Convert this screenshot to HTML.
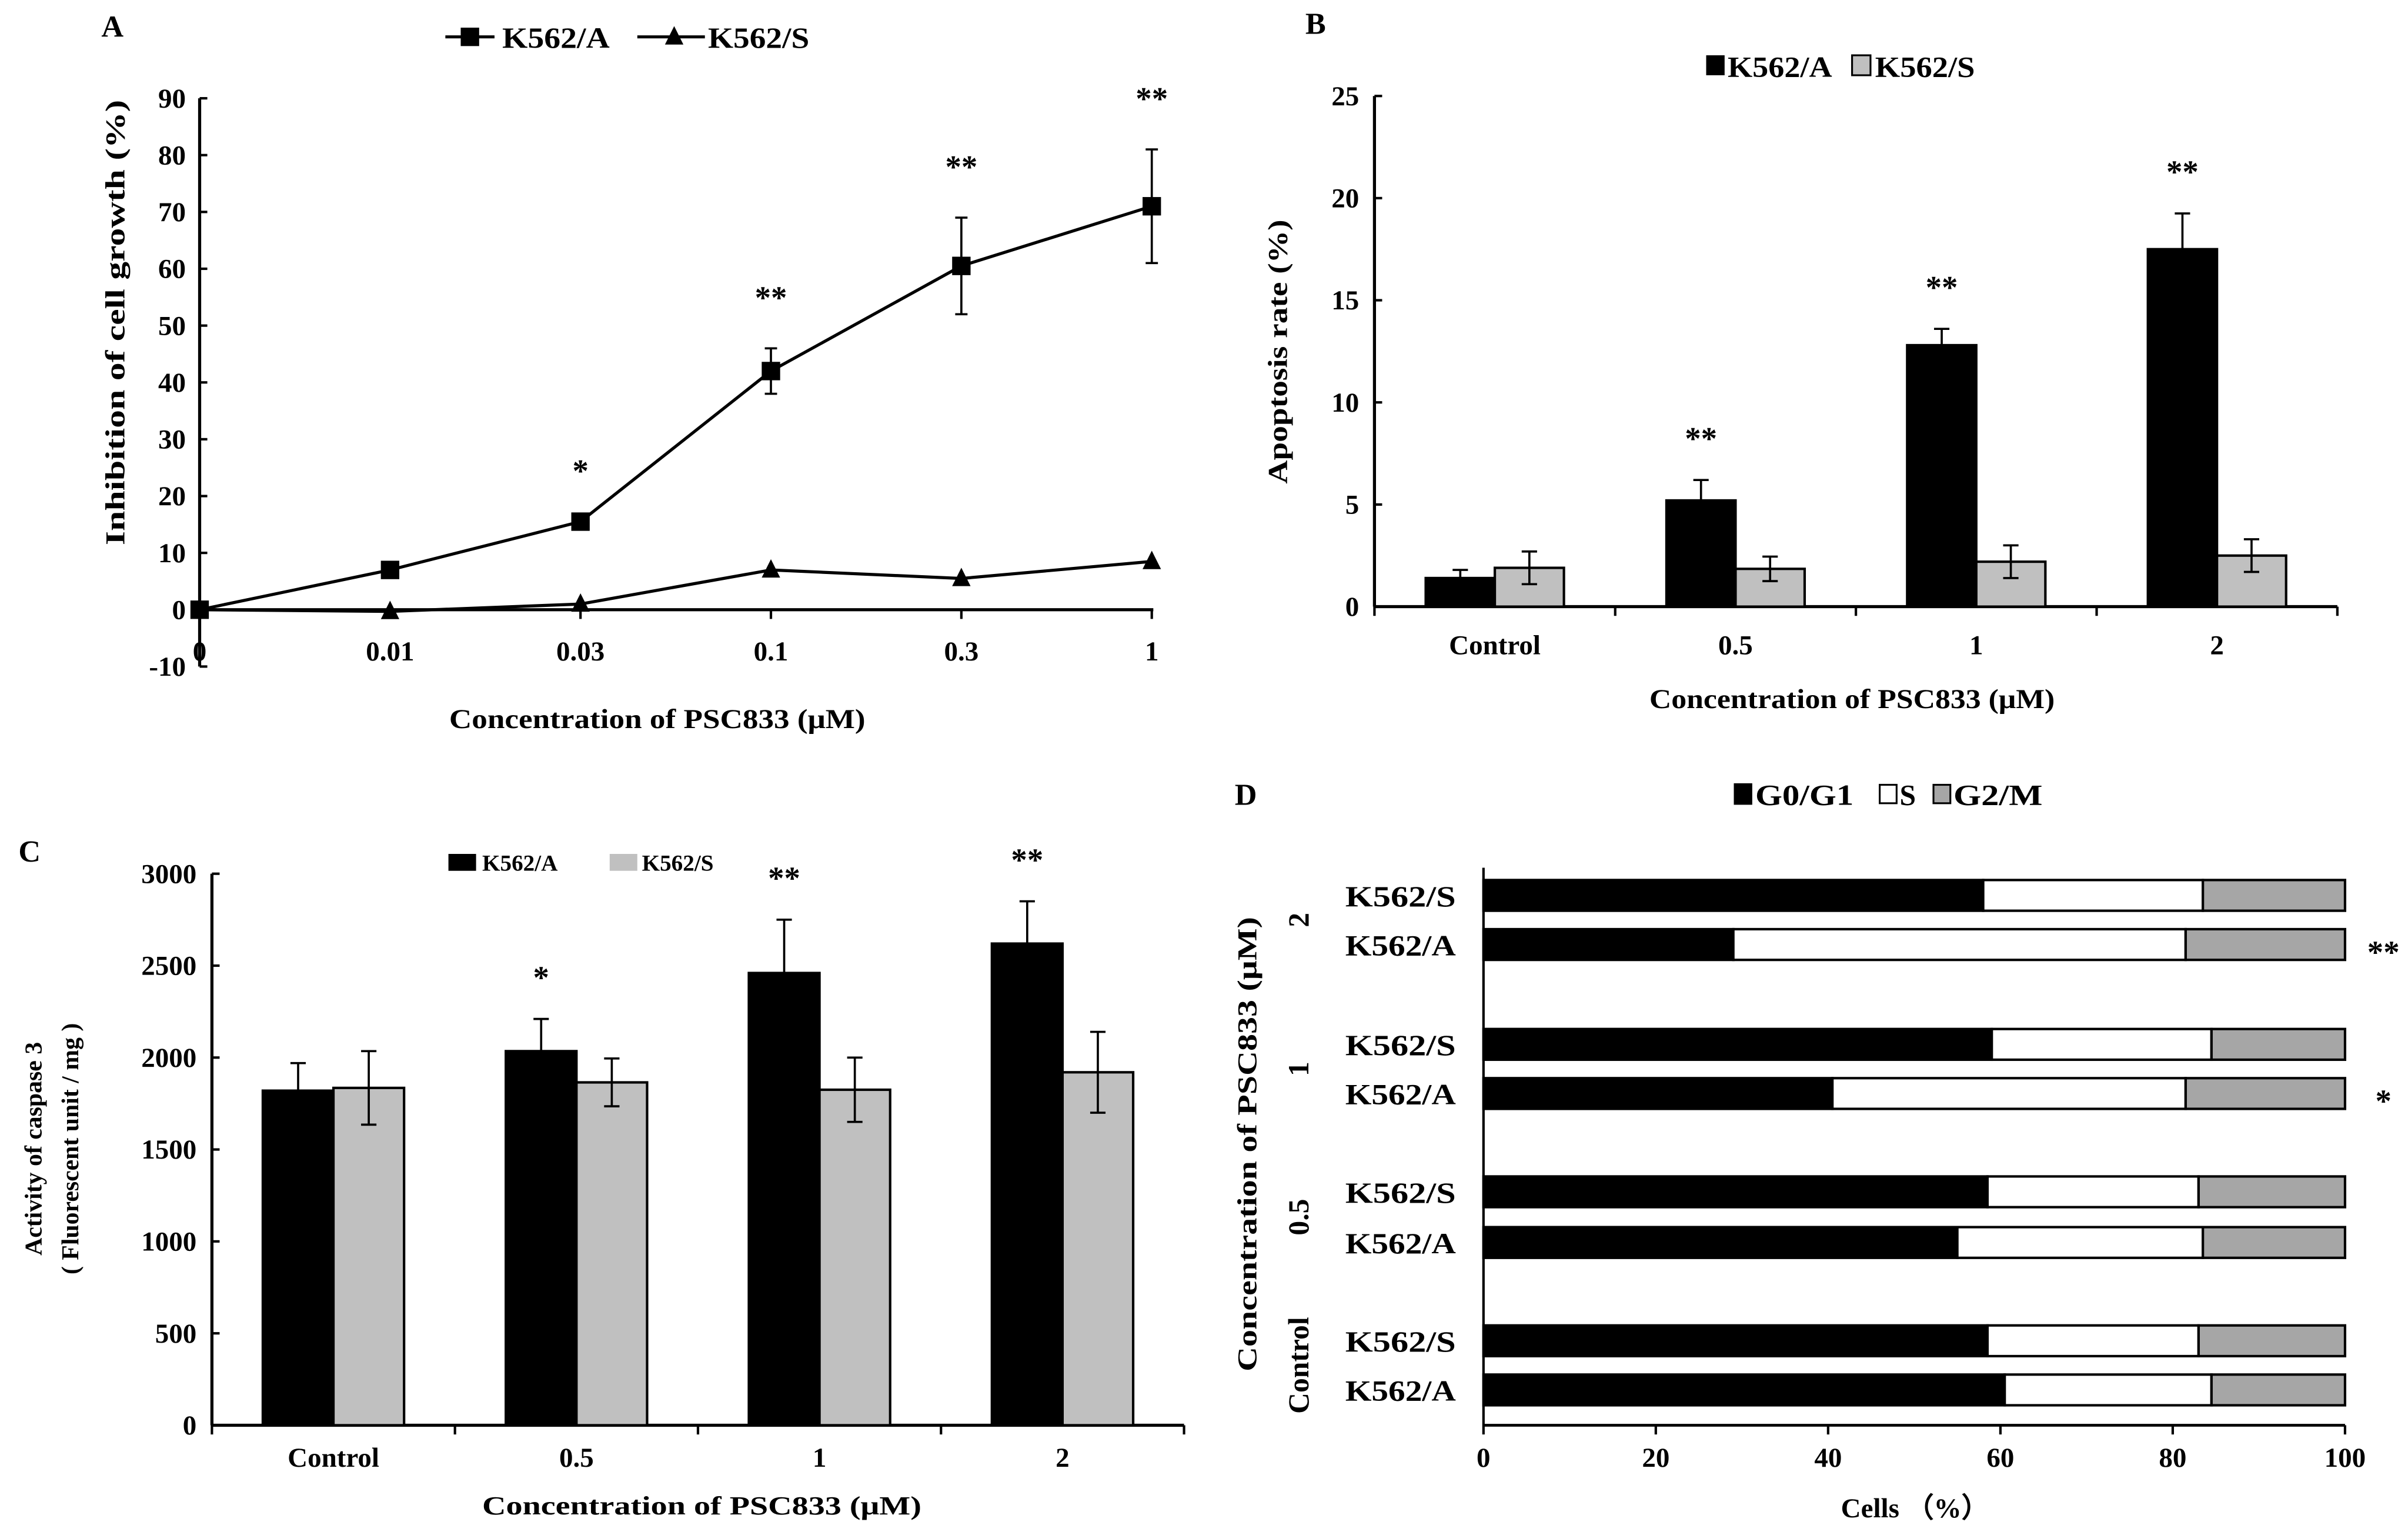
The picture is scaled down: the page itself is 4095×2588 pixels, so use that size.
<!DOCTYPE html>
<html><head><meta charset="utf-8">
<style>
html,body{margin:0;padding:0;background:#fff;}
svg{display:block;}
text{font-family:"Liberation Serif",serif;font-weight:bold;fill:#000;}
</style></head>
<body>
<svg id="fig" xmlns="http://www.w3.org/2000/svg" width="4095" height="2588" viewBox="0 0 1568 991" preserveAspectRatio="none"></svg>
<script>
// ---- Panel A data ----
const aCats = ["0","0.01","0.03","0.1","0.3","1"];
const aSeriesA = [0, 7, 15.5, 42, 60.5, 71];
const aErrA = [0, 0, 0, 4, 8.5, 10];
const aSeriesS = [0, -0.3, 1, 7, 5.5, 8.5];
const aSig = ["", "", "*", "**", "**", "**"];
const aTicks = [-10,0,10,20,30,40,50,60,70,80,90];
// ---- Panel B data ----
const bCats = ["Control","0.5","1","2"];
const bValA = [1.4, 5.2, 12.8, 17.5];
const bErrA = [0.4, 1.0, 0.8, 1.75];
const bValS = [1.9, 1.85, 2.2, 2.5];
const bErrS = [0.8, 0.6, 0.8, 0.8];
const bSig = ["", "**", "**", "**"];
const bTicks = [0,5,10,15,20,25];
// ---- Panel C data ----
const cCats = ["Control","0.5","1","2"];
const cValA = [1820, 2035, 2460, 2620];
const cErrA = [150, 175, 290, 230];
const cValS = [1835, 1865, 1825, 1920];
const cErrS = [200, 130, 175, 220];
const cSig = ["", "*", "**", "**"];
const cTicks = [0,500,1000,1500,2000,2500,3000];
// ---- Panel D data ----
const dRows = ["K562/S","K562/A","K562/S","K562/A","K562/S","K562/A","K562/S","K562/A"];
const dGroups = ["2","1","0.5","Control"];
const dG1 = [58, 29, 59, 40.5, 58.5, 55, 58.5, 60.5];
const dS = [25.5, 52.5, 25.5, 41, 24.5, 28.5, 24.5, 24];
const dG2 = [16.5, 18.5, 15.5, 18.5, 17, 16.5, 17, 15.5];
const dSig = ["", "**", "", "*", "", "", "", ""];
const dTicks = [0,20,40,60,80,100];

const NS = "http://www.w3.org/2000/svg";
const svg = document.getElementById("fig");
function mk(tag, attrs, txt){
  const e = document.createElementNS(NS, tag);
  for (const k in attrs) e.setAttribute(k, attrs[k]);
  if (txt !== undefined) e.textContent = txt;
  svg.appendChild(e);
  return e;
}
function line(x1,y1,x2,y2,w){ return mk("line",{x1,y1,x2,y2,stroke:"#000","stroke-width":w||1.6}); }
let el;

// ================= PANEL A =================
const ax0=130, axStep=124, ay0=397, ayPer=3.7;
const axX = i => ax0 + i*axStep;
const ayY = v => ay0 - v*ayPer;
el = mk("text",{x:66,y:24,"font-size":20},"A");


el = line(ax0, ayY(90), ax0, ayY(-10), 2);


el = line(ax0, ay0, axX(5)+1, ay0, 2);


aTicks.forEach(t=>{
  line(ax0, ayY(t), ax0+5, ayY(t), 1.6);
  el = mk("text",{x:ax0-9,y:ayY(t)+6,"font-size":18,"text-anchor":"end"},String(t));
  
  
});
aCats.forEach((c,i)=>{
  line(axX(i), ay0, axX(i), ay0+6, 1.6);
  el = mk("text",{x:axX(i),y:430,"font-size":18,"text-anchor":"middle"},c);
  
  
});
el = mk("text",{x:428,y:474,"font-size":18,"text-anchor":"middle",textLength:271,lengthAdjust:"spacingAndGlyphs"},"Concentration of PSC833 (μM)");


el = mk("text",{x:0,y:0,"font-size":18,"text-anchor":"middle",transform:"translate(81,210) rotate(-90)",textLength:290,lengthAdjust:"spacingAndGlyphs"},"Inhibition of cell growth (%)");


el = mk("polyline",{points:aSeriesS.map((v,i)=>axX(i)+","+ayY(v)).join(" "),fill:"none",stroke:"#000","stroke-width":2});


el = mk("polyline",{points:aSeriesA.map((v,i)=>axX(i)+","+ayY(v)).join(" "),fill:"none",stroke:"#000","stroke-width":2});


aSeriesA.forEach((v,i)=>{
  if (aErrA[i]>0){
    line(axX(i), ayY(v+aErrA[i]), axX(i), ayY(v-aErrA[i]), 1.4);
    line(axX(i)-4, ayY(v+aErrA[i]), axX(i)+4, ayY(v+aErrA[i]), 1.4);
    line(axX(i)-4, ayY(v-aErrA[i]), axX(i)+4, ayY(v-aErrA[i]), 1.4);
  }
  el = mk("rect",{x:axX(i)-6,y:ayY(v)-6,width:12,height:12,fill:"#000"});
  
  
  if (aSig[i]){
    el = mk("text",{x:axX(i),y:ayY(v+aErrA[i])-26,"font-size":21,"text-anchor":"middle"},aSig[i]);
    
    
  }
});
aSeriesS.forEach((v,i)=>{
  const x=axX(i), y=ayY(v);
  el = mk("polygon",{points:`${x},${y-7} ${x-6},${y+5} ${x+6},${y+5}`,fill:"#000"});
  
  
});
line(290,24,322,24,2);
el = mk("rect",{x:300,y:18,width:12,height:12,fill:"#000"});


el = mk("text",{x:327,y:31,"font-size":19,textLength:70,lengthAdjust:"spacingAndGlyphs"},"K562/A");


line(415,24,459,24,2);
el = mk("polygon",{points:"439,17 433,29 445,29",fill:"#000"});


el = mk("text",{x:461,y:31,"font-size":19,textLength:66,lengthAdjust:"spacingAndGlyphs"},"K562/S");



// ================= BAR helper =================
function barPanel(o){
  const yY = v => o.y0 - v*o.per;
  line(o.x0, yY(o.ticks[o.ticks.length-1]), o.x0, o.y0, 2);
  line(o.x0, o.y0, o.x1, o.y0, 2);
  o.ticks.forEach(t=>{
    line(o.x0, yY(t), o.x0+5, yY(t), 1.6);
    el = mk("text",{x:o.x0-10,y:yY(t)+6,"font-size":18,"text-anchor":"end"},String(t));
    
    
  });
  const step=(o.x1-o.x0)/o.cats.length;
  for(let i=0;i<=o.cats.length;i++) line(o.x0+i*step, o.y0, o.x0+i*step, o.y0+6, 1.6);
  o.cats.forEach((c,i)=>{
    const cx=o.x0+(i+0.5)*step;
    el = mk("text",{x:cx,y:o.catY,"font-size":18,"text-anchor":"middle"},c);
    
    
    [[o.va,o.ea,"#000",-o.bw],[o.vs,o.es,"#c0c0c0",0]].forEach(([vals,errs,col,off],k)=>{
      const v=vals[i], e=errs[i], bx=cx+off;
      el = mk("rect",{x:bx,y:yY(v),width:o.bw,height:o.y0-yY(v),fill:col,stroke:"#000","stroke-width":1.6});
      
      
      const ex=bx+o.bw/2;
      line(ex,yY(v+e),ex,yY(v-e),1.4);
      line(ex-5,yY(v+e),ex+5,yY(v+e),1.4);
      line(ex-5,yY(v-e),ex+5,yY(v-e),1.4);
    });
    if (o.sig[i]){
      el = mk("text",{x:cx-o.bw/2,y:yY(o.va[i]+o.ea[i])-o.sigOff,"font-size":21,"text-anchor":"middle"},o.sig[i]);
      
      
    }
  });
}
// ================= PANEL B =================
barPanel({p:"panel-b",x0:895,x1:1522,y0:395,per:13.3,ticks:bTicks,cats:bCats,va:bValA,ea:bErrA,vs:bValS,es:bErrS,sig:bSig,bw:45,catY:426,sigOff:20});
el = mk("text",{x:850,y:22,"font-size":20},"B");


el = mk("rect",{x:1111,y:36,width:12,height:13,fill:"#000"});


el = mk("text",{x:1125,y:50,"font-size":19,textLength:68,lengthAdjust:"spacingAndGlyphs"},"K562/A");


el = mk("rect",{x:1206,y:36,width:12,height:13,fill:"#c0c0c0",stroke:"#000","stroke-width":1.2});


el = mk("text",{x:1221,y:50,"font-size":19,textLength:65,lengthAdjust:"spacingAndGlyphs"},"K562/S");


el = mk("text",{x:1206,y:461,"font-size":18,"text-anchor":"middle",textLength:264,lengthAdjust:"spacingAndGlyphs"},"Concentration of PSC833 (μM)");


el = mk("text",{x:0,y:0,"font-size":18,"text-anchor":"middle",transform:"translate(838,229) rotate(-90)",textLength:172,lengthAdjust:"spacingAndGlyphs"},"Apoptosis rate (%)");



// ================= PANEL C =================
barPanel({p:"panel-c",x0:138,x1:771,y0:928,per:0.1197,ticks:cTicks,cats:cCats,va:cValA,ea:cErrA,vs:cValS,es:cErrS,sig:cSig,bw:46,catY:955,sigOff:20});
el = mk("text",{x:12,y:561,"font-size":20},"C");


el = mk("rect",{x:292,y:556,width:18,height:11,fill:"#000"});


el = mk("text",{x:314,y:567,"font-size":15},"K562/A");


el = mk("rect",{x:397,y:556,width:18,height:11,fill:"#c0c0c0"});


el = mk("text",{x:418,y:567,"font-size":15},"K562/S");


el = mk("text",{x:457,y:986,"font-size":17,"text-anchor":"middle",textLength:286,lengthAdjust:"spacingAndGlyphs"},"Concentration of PSC833 (μM)");


el = mk("text",{x:0,y:0,"font-size":16,"text-anchor":"middle",transform:"translate(27,748) rotate(-90)"},"Activity of caspase 3");


el = mk("text",{x:0,y:0,"font-size":16,"text-anchor":"middle",transform:"translate(51,748) rotate(-90)"},"( Fluorescent unit / mg )");



// ================= PANEL D =================
const dx0=966, dPer=5.61, dY0=928;
const dX = v => dx0 + v*dPer;
const rowY = [583,615,680,712,776,809,873,905];
el = mk("text",{x:804,y:524,"font-size":20},"D");


line(dx0, 565, dx0, dY0, 1.6);
line(dx0, dY0, dX(100), dY0, 1.8);
dTicks.forEach(t=>{
  line(dX(t), dY0, dX(t), dY0+6, 1.6);
  el = mk("text",{x:dX(t),y:955,"font-size":18,"text-anchor":"middle"},String(t));
  
  
});
dRows.forEach((r,i)=>{
  const y=rowY[i]-10, h=20;
  const segs=[[0,dG1[i],"#000","g0g1"],[dG1[i],dG1[i]+dS[i],"#fff","s"],[dG1[i]+dS[i],dG1[i]+dS[i]+dG2[i],"#a6a6a6","g2m"]];
  segs.forEach(([a,b,col,nm])=>{
    el = mk("rect",{x:dX(a),y:y,width:dX(b)-dX(a),height:h,fill:col,stroke:"#000","stroke-width":1.6});
    
    
  });
  el = mk("text",{x:948,y:rowY[i]+7,"font-size":19,"text-anchor":"end",textLength:72,lengthAdjust:"spacingAndGlyphs"},r);
  
  
  if (dSig[i]){
    el = mk("text",{x:1552,y:rowY[i]+12,"font-size":21,"text-anchor":"middle"},dSig[i]);
    
    
  }
});
dGroups.forEach((g,i)=>{
  const cy=(rowY[2*i]+rowY[2*i+1])/2;
  el = mk("text",{x:0,y:0,"font-size":19,"text-anchor":"middle",transform:`translate(852,${cy}) rotate(-90)`},g);
  
  
});
el = mk("text",{x:0,y:0,"font-size":18,"text-anchor":"middle",transform:"translate(818,745) rotate(-90)",textLength:296,lengthAdjust:"spacingAndGlyphs"},"Concentration of PSC833 (μM)");


el = mk("text",{x:1247,y:988,"font-size":18,"text-anchor":"middle"},"Cells （%）");


el = mk("rect",{x:1129,y:510,width:12,height:14,fill:"#000"});


el = mk("text",{x:1143,y:524,"font-size":19,textLength:64,lengthAdjust:"spacingAndGlyphs"},"G0/G1");


el = mk("rect",{x:1224,y:511,width:11,height:12,fill:"#fff",stroke:"#000","stroke-width":1.2});


el = mk("text",{x:1237,y:524,"font-size":19},"S");


el = mk("rect",{x:1259,y:511,width:11,height:12,fill:"#a6a6a6",stroke:"#000","stroke-width":1.2});


el = mk("text",{x:1272,y:524,"font-size":19,textLength:58,lengthAdjust:"spacingAndGlyphs"},"G2/M");


</script>
</body></html>
